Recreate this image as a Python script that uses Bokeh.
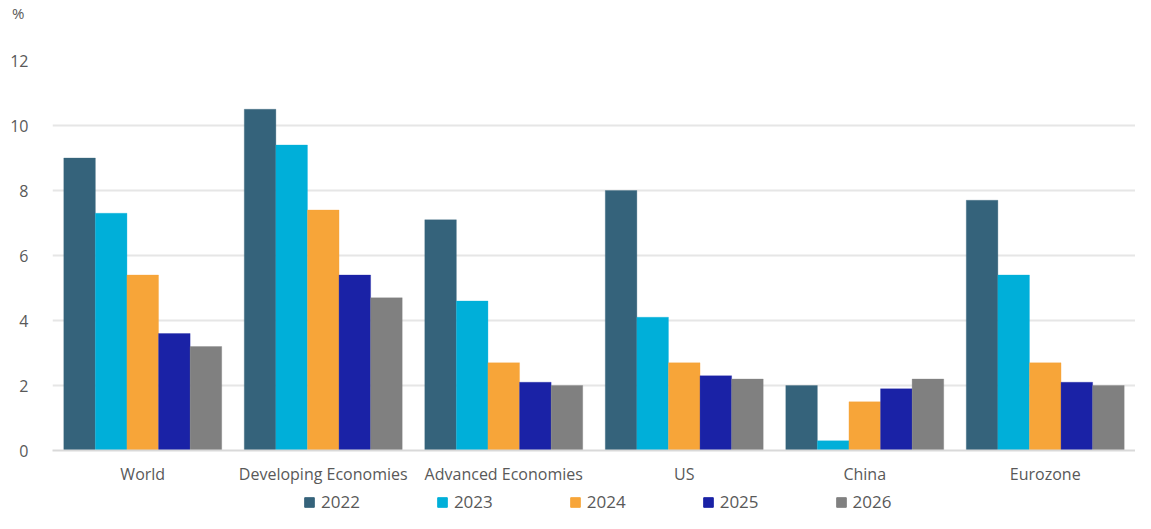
from bokeh.plotting import figure
from bokeh.models import ColumnDataSource, FactorRange, Range1d, Legend, LegendItem, FixedTicker, Div
from bokeh.layouts import column
from bokeh.transform import dodge
from bokeh.embed import file_html
from bokeh.resources import INLINE

categories = ["World", "Developing Economies", "Advanced Economies", "US", "China", "Eurozone"]
years = ["2022", "2023", "2024", "2025", "2026"]
v2022 = [9.0, 10.5, 7.1, 8.0, 2.0, 7.7]
v2023 = [7.3, 9.4, 4.6, 4.1, 0.3, 5.4]
v2024 = [5.4, 7.4, 2.7, 2.7, 1.5, 2.7]
v2025 = [3.6, 5.4, 2.1, 2.3, 1.9, 2.1]
v2026 = [3.2, 4.7, 2.0, 2.2, 2.2, 2.0]
colors = ["#35637B", "#00AFD9", "#F7A539", "#1A22A6", "#808080"]
y_ticks = [0, 2, 4, 6, 8, 10, 12]
unit_label = "%"

series = [v2022, v2023, v2024, v2025, v2026]
data = {"cat": categories}
for y, vals in zip(years, series):
    data["y" + y] = vals
src = ColumnDataSource(data)

FONT = "Open Sans"
TXT = "#595959"
W = 1135

unit_div = Div(text=unit_label, width=60, height=26, margin=0,
               styles={"font-family": FONT, "font-size": "15px", "color": TXT,
                       "padding-left": "12px", "padding-top": "4px", "line-height": "18px"})

p = figure(width=W, height=461, x_range=FactorRange(*categories),
           y_range=Range1d(0, 12), output_backend="svg", toolbar_location=None,
           min_border_left=52, min_border_right=0, min_border_top=34, min_border_bottom=37)
p.outline_line_color = None

bw = 0.175
offsets = [-0.35, -0.175, 0.0, 0.175, 0.35]
for y, off, col in zip(years, offsets, colors):
    p.vbar(x=dodge("cat", off, range=p.x_range), top="y" + y, width=bw, bottom=0,
           source=src, fill_color=col, line_color=col, line_width=0.5, line_alpha=0.6)

p.xgrid.grid_line_color = None
p.ygrid.grid_line_color = "#E6E6E6"
p.ygrid.grid_line_width = 2
p.ygrid.ticker = FixedTicker(ticks=y_ticks)

p.yaxis.ticker = FixedTicker(ticks=y_ticks)
p.yaxis.axis_line_color = None
p.yaxis.major_tick_line_color = None
p.yaxis.minor_tick_line_color = None
p.yaxis.major_label_standoff = 18
p.yaxis.major_label_text_font = FONT
p.yaxis.major_label_text_font_size = "16px"
p.yaxis.major_label_text_color = TXT

p.xaxis.axis_line_color = "#D9D9D9"
p.xaxis.axis_line_width = 2
p.xaxis.major_tick_line_color = None
p.xaxis.minor_tick_line_color = None
p.xaxis.major_label_standoff = 6
p.xaxis.major_label_text_font = FONT
p.xaxis.major_label_text_font_size = "16px"
p.xaxis.major_label_text_color = TXT

# legend strip below the chart
p2 = figure(width=W, height=26, x_range=Range1d(0, 1), y_range=Range1d(0, 1),
            output_backend="svg", toolbar_location=None, min_border=0,
            x_axis_location=None, y_axis_location=None)
p2.outline_line_color = None
p2.xgrid.grid_line_color = None
p2.ygrid.grid_line_color = None
items = []
for y, col in zip(years, colors):
    r = p2.vbar(x=[10], top=[10], width=0.1, fill_color=col, line_color=col)
    items.append(LegendItem(label=y, renderers=[r]))
legend = Legend(items=items, orientation="horizontal", location=(251, 0),
                label_text_font=FONT, label_text_font_size="17px", label_text_color=TXT,
                glyph_width=12, glyph_height=12, label_height=20, label_standoff=6,
                spacing=76, padding=0, margin=0, border_line_color=None,
                background_fill_alpha=0)
p2.add_layout(legend, "center")

open("out.html", "w").write(file_html(column(unit_div, p, p2, spacing=0), INLINE))
